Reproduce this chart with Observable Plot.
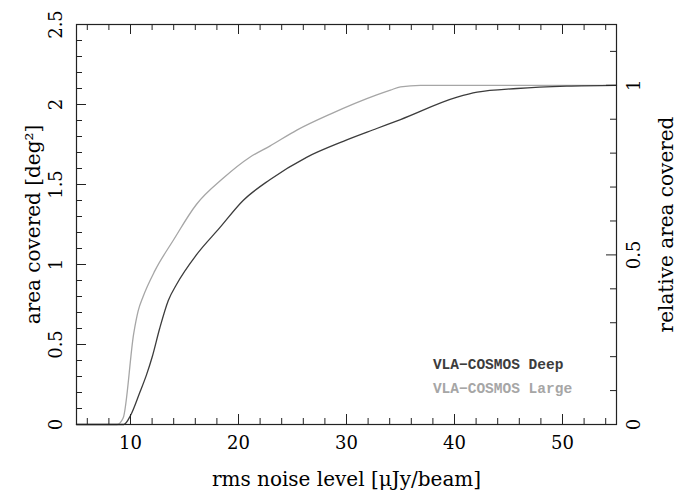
<!DOCTYPE html>
<html>
<head>
<meta charset="utf-8">
<script src="https://cdn.jsdelivr.net/npm/d3@7"></script>
<script src="https://cdn.jsdelivr.net/npm/@observablehq/plot@0.6"></script>
<style>
  body { margin: 0; background: white; }
</style>
</head>
<body>
<div id="chart"></div>
<script>
// --- data ---
const deepNoise = [5, 9.38, 10.0, 10.86, 11.48, 12.0, 12.7, 13.5, 14.26, 16.1, 18.27, 20.43, 22.9, 26.3, 29.7, 32.8, 35.0, 40.25, 42.1, 45.8, 50.4, 55];
const deepArea  = [0, 0, 0.056, 0.2, 0.31, 0.42, 0.6, 0.775, 0.875, 1.06, 1.23, 1.40, 1.53, 1.67, 1.77, 1.85, 1.906, 2.046, 2.077, 2.10, 2.115, 2.12];

const largeNoise = [5, 8.77, 9.32, 10.3, 10.71, 11.17, 12.25, 13.95, 16.1, 18.6, 21.05, 22.9, 25.4, 28.5, 32.8, 34.07, 35.0, 36.85, 55];
const largeArea  = [0, 0, 0.04, 0.57, 0.71, 0.80, 0.96, 1.15, 1.375, 1.54, 1.67, 1.74, 1.84, 1.94, 2.06, 2.09, 2.11, 2.12, 2.12];

const maxArea = 2.12;           // relative area = 1
const xMajor = [10, 20, 30, 40, 50];
const xMinor = [6, 8, 12, 14, 16, 18, 22, 24, 26, 28, 32, 34, 36, 38, 42, 44, 46, 48, 52, 54];
const yMajor = [0, 0.5, 1, 1.5, 2, 2.5];
const yMinor = [0.1,0.2,0.3,0.4,0.6,0.7,0.8,0.9,1.1,1.2,1.3,1.4,1.6,1.7,1.8,1.9,2.1,2.2,2.3,2.4];
const relMajor = [0, 0.5, 1];
const relMinor = [0.1,0.2,0.3,0.4,0.6,0.7,0.8,0.9,1.1];

const seriesNames = ["VLA\u2212COSMOS Deep", "VLA\u2212COSMOS Large"];
const seriesColors = ["#3c3c3c", "#a6a6a6"];
const legendX = [38.0, 38.0];
const legendY = [0.375, 0.225];

const deep = deepNoise.map((x, i) => ({x, y: deepArea[i]}));
const large = largeNoise.map((x, i) => ({x, y: largeArea[i]}));

const frameH = 496 - 24 - 72;
const frameW = 687 - 76 - 71;
const ink = "#222";
const serif = "DejaVu Serif";

const chart = Plot.plot({
  width: 687,
  height: 496,
  marginTop: 24,
  marginRight: 71,
  marginBottom: 72,
  marginLeft: 76,
  x: {domain: [5, 55], axis: null},
  y: {domain: [0, 2.5], axis: null},
  style: {background: "white", fontFamily: serif},
  marks: [
    Plot.line(large, {x: "x", y: "y", stroke: seriesColors[1], strokeWidth: 1.3, curve: "monotone-x"}),
    Plot.line(deep, {x: "x", y: "y", stroke: seriesColors[0], strokeWidth: 1.3, curve: "monotone-x"}),
    // ticks bottom / top
    Plot.tickX(xMajor, {x: d => d, insetTop: frameH - 10, stroke: ink}),
    Plot.tickX(xMinor, {x: d => d, insetTop: frameH - 6, stroke: ink}),
    Plot.tickX(xMajor, {x: d => d, insetBottom: frameH - 10, stroke: ink}),
    Plot.tickX(xMinor, {x: d => d, insetBottom: frameH - 6, stroke: ink}),
    // ticks left
    Plot.tickY(yMajor, {y: d => d, insetRight: frameW - 10, stroke: ink}),
    Plot.tickY(yMinor, {y: d => d, insetRight: frameW - 6, stroke: ink}),
    // ticks right (relative)
    Plot.tickY(relMajor, {y: d => d * maxArea, insetLeft: frameW - 10, stroke: ink}),
    Plot.tickY(relMinor, {y: d => d * maxArea, insetLeft: frameW - 6, stroke: ink}),
    Plot.frame({stroke: ink, strokeWidth: 1.2}),
    // tick labels
    Plot.text(xMajor, {x: d => d, text: d => String(d), frameAnchor: "bottom", dy: 19, lineAnchor: "middle", fontSize: 18, fill: "black"}),
    Plot.text(yMajor, {y: d => d, text: d => String(d), frameAnchor: "left", dx: -20, rotate: -90, textAnchor: "middle", lineAnchor: "middle", fontSize: 18, fill: "black"}),
    Plot.text(relMajor, {y: d => d * maxArea, text: d => String(d), frameAnchor: "right", dx: 18, rotate: -90, textAnchor: "middle", lineAnchor: "middle", fontSize: 18, fill: "black"}),
    // axis titles
    Plot.text(["rms noise level [\u03bcJy/beam]"], {text: d => d, frameAnchor: "bottom", dy: 55, lineAnchor: "middle", fontSize: 20, fill: "black"}),
    Plot.text(["area covered [deg\u00b2]"], {text: d => d, frameAnchor: "left", dx: -43, rotate: -90, textAnchor: "middle", lineAnchor: "middle", fontSize: 20, fill: "black"}),
    Plot.text(["relative area covered"], {text: d => d, frameAnchor: "right", dx: 50, rotate: -90, textAnchor: "middle", lineAnchor: "middle", fontSize: 20, fill: "black"}),
    // legend
    Plot.text(seriesNames, {x: (d, i) => legendX[i], y: (d, i) => legendY[i], text: d => d, fill: (d, i) => seriesColors[i], textAnchor: "start", lineAnchor: "middle", fontFamily: "Liberation Mono", fontWeight: "bold", fontSize: 14.5})
  ]
});
document.getElementById("chart").appendChild(chart);
</script>
</body>
</html>
